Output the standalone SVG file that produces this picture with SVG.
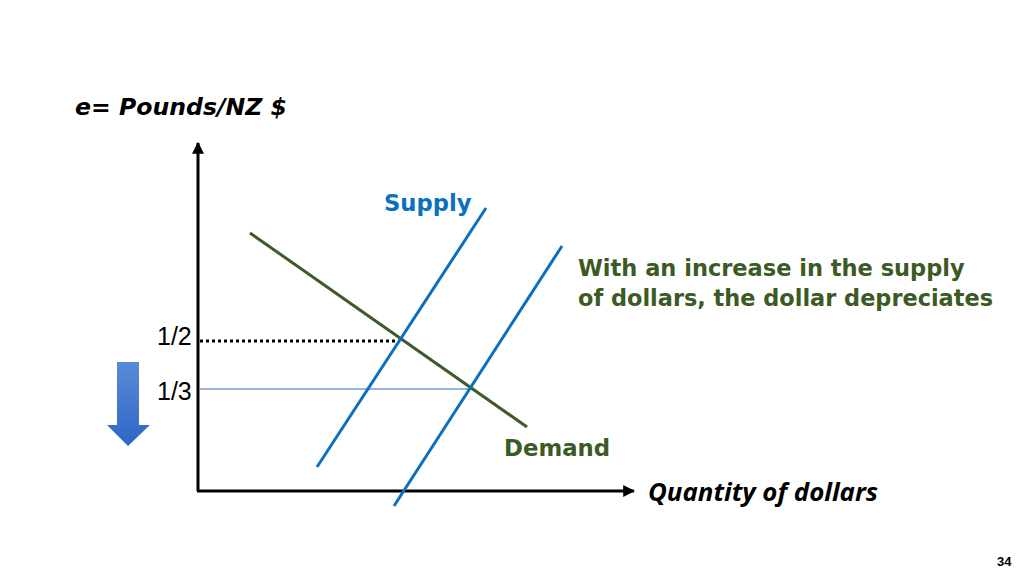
<svg xmlns="http://www.w3.org/2000/svg" width="1024" height="576" viewBox="0 0 1024 576">
<defs>
<style>
.v{font-family:"DejaVu Sans","Verdana",sans-serif;font-weight:bold}
.g{fill:#3B5A24}
.s{stroke:#0A70BF;stroke-width:3;fill:none}
.d{stroke:#3F5A2A;stroke-width:3;fill:none}
.ax{stroke:#000;stroke-width:3;fill:none}
.tick{font-family:"Liberation Sans",Arial,sans-serif;font-size:25px;fill:#000}
</style>
<marker id="ah" viewBox="0 0 10 10" refX="9" refY="5" markerWidth="4" markerHeight="4" orient="auto" markerUnits="strokeWidth">
<path d="M0,0 L10,5 L0,10 z" fill="#000"/>
</marker>
<linearGradient id="bg" x1="0" y1="0" x2="0" y2="1">
<stop offset="0" stop-color="#5A8AD8"/>
<stop offset="1" stop-color="#2F66C4"/>
</linearGradient>
</defs>
<rect width="1024" height="576" fill="#fff"/>
<g id="axes">
<line class="ax" x1="198" y1="491" x2="198" y2="143" marker-end="url(#ah)"/>
<line class="ax" x1="197" y1="491" x2="634" y2="491" marker-end="url(#ah)"/>
</g>
<g id="connectors">
<line x1="200" y1="341" x2="400" y2="341" stroke="#000" stroke-width="3" stroke-dasharray="3,3"/>
<line x1="200" y1="389" x2="472" y2="389" stroke="#2F6DB5" stroke-width="1"/>
</g>
<g id="demand"><line class="d" x1="250" y1="233" x2="527" y2="427"/></g>
<g id="supply1"><line class="s" x1="317" y1="467" x2="486" y2="208"/></g>
<g id="supply2"><line class="s" x1="394" y1="506" x2="562" y2="246"/></g>
<g id="arrow"><path d="M117,362 H139 V425 H150 L128,446 L107,425 H117 Z" fill="url(#bg)"/></g>
<g id="labels">
<text class="v" x="75" y="115" font-size="23" font-style="italic" fill="#000" textLength="212" lengthAdjust="spacingAndGlyphs">e= Pounds/NZ $</text>
<text class="v" x="384" y="211" font-size="22.7" fill="#0A70BF">Supply</text>
<text class="v g" x="578" y="276" font-size="22.5">With an increase in the supply</text>
<text class="v g" x="578" y="306" font-size="22.5" textLength="415" lengthAdjust="spacingAndGlyphs">of dollars, the dollar depreciates</text>
<text class="v g" x="504" y="456" font-size="22.8">Demand</text>
<text x="648" y="501" font-family="'Open Sans','DejaVu Sans',sans-serif" font-weight="bold" font-style="italic" font-size="25" fill="#000" textLength="230" lengthAdjust="spacingAndGlyphs">Quantity of dollars</text>
<text class="tick" x="157" y="345">1/2</text>
<text class="tick" x="157" y="400">1/3</text>
<text x="997" y="566" font-family="'Liberation Sans',Arial,sans-serif" font-weight="bold" font-size="13" fill="#000">34</text>
</g>
</svg>
